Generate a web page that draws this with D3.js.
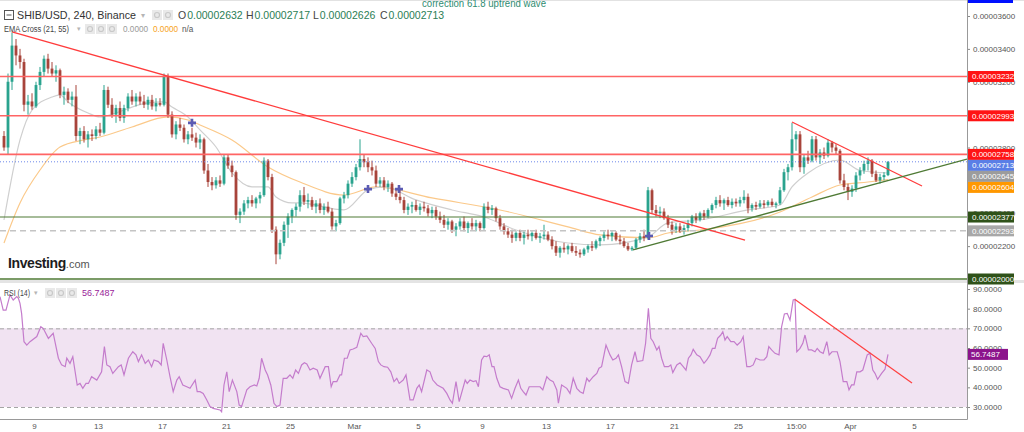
<!DOCTYPE html>
<html><head><meta charset="utf-8">
<script src="https://cdn.jsdelivr.net/npm/d3@7"></script>
<style>
body{margin:0;background:#fff;}
svg{display:block;font-family:Arial,"Liberation Sans",sans-serif;}
</style>
</head><body>
<svg id="c" width="1024" height="432"></svg>
<script>
// ---------- DATA (prices in units of 1e-8 USD) ----------
// 6-hour candles [open, high, low, close]
const candles = [
[2870,2900,2780,2800],[2800,3250,2760,3200],[3200,3500,3150,3420],[3420,3460,3300,3360],[3360,3400,3280,3320],
[3320,3340,3020,3060],[3060,3120,3000,3080],[3080,3130,3030,3050],[3050,3200,3040,3180],[3180,3290,3150,3260],
[3260,3360,3230,3340],[3340,3370,3250,3280],[3280,3320,3230,3250],[3250,3300,3200,3270],[3270,3280,3100,3120],
[3120,3170,3060,3140],[3140,3160,3070,3090],[3090,3140,3050,3110],[3110,3180,2840,2870],[2870,2920,2820,2900],
[2900,2930,2830,2850],[2850,2900,2800,2880],[2880,2910,2840,2870],[2870,2930,2850,2910],[2910,2950,2870,2890],
[2890,3180,2880,3150],[3150,3170,3040,3060],[3060,3100,2980,3000],[3000,3060,2950,3040],[3040,3080,2960,2980],
[2980,3060,2950,3040],[3040,3130,3020,3110],[3110,3150,3060,3080],[3080,3130,3050,3110],[3110,3140,3060,3080],
[3080,3120,3040,3060],[3060,3110,3030,3090],[3090,3120,3030,3050],[3050,3100,3020,3070],[3070,3100,3050,3060],
[3060,3250,3050,3230],[3230,3250,2980,3000],[3000,3020,2860,2880],[2880,2960,2850,2940],[2940,2980,2900,2920],
[2920,2940,2830,2850],[2850,2900,2820,2880],[2880,2920,2840,2860],[2860,2890,2800,2830],[2830,2880,2790,2850],
[2850,2860,2640,2660],[2660,2700,2560,2590],[2590,2620,2540,2570],[2570,2620,2550,2600],[2600,2630,2560,2580],
[2580,2760,2570,2740],[2740,2760,2670,2690],[2690,2720,2620,2650],[2650,2660,2360,2390],[2390,2430,2340,2410],
[2410,2480,2390,2460],[2460,2500,2430,2480],[2480,2510,2440,2460],[2460,2500,2430,2490],[2490,2530,2460,2510],
[2510,2740,2500,2720],[2720,2730,2600,2620],[2620,2640,2280,2300],[2300,2320,2090,2150],[2150,2240,2120,2220],
[2220,2350,2200,2330],[2330,2400,2250,2380],[2380,2430,2340,2420],[2420,2460,2380,2440],[2440,2540,2410,2510],
[2510,2560,2450,2470],[2470,2520,2430,2480],[2480,2500,2420,2440],[2440,2480,2400,2460],[2460,2490,2400,2420],
[2420,2460,2390,2440],[2440,2470,2400,2410],[2410,2430,2300,2320],[2320,2360,2290,2340],[2340,2500,2330,2490],
[2490,2530,2460,2510],[2510,2600,2490,2580],[2580,2650,2560,2620],[2620,2700,2600,2680],[2680,2850,2660,2730],
[2730,2760,2680,2710],[2710,2740,2650,2680],[2680,2720,2630,2660],[2660,2690,2560,2580],[2580,2620,2560,2600],
[2600,2620,2540,2560],[2560,2600,2530,2580],[2580,2590,2500,2520],[2520,2550,2480,2500],[2500,2540,2460,2480],
[2480,2500,2400,2420],[2420,2460,2390,2440],[2440,2470,2400,2450],[2450,2480,2410,2420],[2420,2460,2390,2440],
[2440,2470,2410,2430],[2430,2450,2380,2400],[2400,2440,2370,2420],[2420,2440,2360,2380],[2380,2410,2340,2360],
[2360,2390,2310,2330],[2330,2370,2300,2350],[2350,2360,2280,2300],[2300,2340,2260,2320],[2320,2370,2300,2350],
[2350,2380,2290,2310],[2310,2350,2280,2340],[2340,2370,2300,2320],[2320,2360,2290,2340],[2340,2350,2290,2310],
[2310,2460,2300,2440],[2440,2470,2400,2420],[2420,2450,2390,2430],[2430,2440,2350,2370],[2370,2390,2300,2320],
[2320,2340,2270,2290],[2290,2310,2250,2270],[2270,2300,2220,2250],[2250,2290,2230,2280],[2280,2300,2230,2250],
[2250,2290,2210,2270],[2270,2300,2240,2260],[2260,2290,2230,2280],[2280,2300,2240,2250],[2250,2280,2220,2260],
[2260,2330,2240,2270],[2270,2290,2230,2240],[2240,2260,2180,2200],[2200,2230,2140,2160],[2160,2200,2130,2190],
[2190,2220,2160,2180],[2180,2210,2150,2200],[2200,2220,2160,2170],[2170,2200,2140,2160],[2160,2180,2130,2150],
[2150,2190,2140,2180],[2180,2210,2160,2200],[2200,2230,2170,2190],[2190,2240,2180,2230],[2230,2260,2200,2250],
[2250,2290,2230,2270],[2270,2300,2240,2260],[2260,2290,2230,2280],[2280,2290,2230,2240],[2240,2270,2210,2230],
[2230,2250,2190,2200],[2200,2220,2170,2180],[2180,2200,2170,2190],[2190,2250,2180,2240],[2240,2280,2220,2260],
[2260,2300,2230,2250],[2250,2560,2240,2540],[2540,2550,2400,2420],[2420,2450,2380,2400],[2400,2440,2370,2410],
[2410,2430,2360,2370],[2370,2390,2310,2330],[2330,2350,2270,2300],[2300,2340,2280,2320],[2320,2340,2280,2290],
[2290,2330,2270,2310],[2310,2360,2290,2340],[2340,2390,2320,2380],[2380,2400,2340,2360],[2360,2410,2350,2400],
[2400,2420,2360,2380],[2380,2430,2370,2420],[2420,2460,2400,2450],[2450,2500,2430,2480],[2480,2510,2440,2460],
[2460,2490,2420,2480],[2480,2500,2440,2450],[2450,2490,2430,2470],[2470,2490,2440,2460],[2460,2500,2440,2480],
[2480,2540,2460,2500],[2500,2520,2400,2430],[2430,2460,2410,2450],[2450,2470,2420,2440],[2440,2480,2430,2460],
[2460,2480,2430,2450],[2450,2480,2440,2470],[2470,2490,2440,2450],[2450,2470,2430,2460],[2460,2560,2450,2540],
[2540,2670,2530,2650],[2650,2700,2600,2680],[2680,2950,2660,2850],[2850,2900,2780,2880],[2880,2900,2650,2680],
[2680,2760,2640,2740],[2740,2780,2700,2720],[2720,2870,2710,2850],[2850,2870,2720,2740],[2740,2790,2700,2770],
[2770,2800,2730,2750],[2750,2850,2740,2830],[2830,2840,2770,2800],[2800,2820,2760,2780],[2780,2790,2580,2600],
[2600,2640,2540,2560],[2560,2580,2480,2530],[2530,2570,2500,2550],[2550,2650,2530,2630],[2630,2680,2600,2660],
[2660,2720,2640,2700],[2700,2740,2660,2720],[2720,2730,2620,2640],[2640,2660,2590,2600],[2600,2640,2580,2620],
[2620,2650,2600,2632],[2632,2717,2626,2713]
];
// EMA 21 / EMA 55: [candle index, value]
const ema21 = [[0,2359],[4,2846],[7,3028],[12,3107],[14,3120],[16,3077],[21,3010],[24,2986],[28,3010],[32,3046],
[36,3071],[40,3077],[42,3046],[46,2986],[49,2907],[53,2803],[57,2645],[62,2560],[66,2560],[68,2499],[72,2463],
[74,2463],[85,2420],[91,2542],[95,2560],[103,2481],[112,2420],[120,2377],[128,2298],[141,2219],[149,2207],
[161,2256],[166,2341],[174,2359],[186,2420],[194,2450],[197,2560],[201,2645],[209,2724],[214,2660],[221,2645]];
const ema55 = [[0,2219],[4,2463],[9,2663],[14,2803],[20,2846],[24,2864],[32,2925],[41,2986],[46,2967],[49,2937],
[57,2846],[66,2682],[74,2590],[85,2511],[93,2560],[107,2493],[124,2420],[141,2317],[149,2268],[161,2250],
[166,2280],[174,2298],[194,2408],[202,2499],[209,2572],[216,2590],[221,2604]];
// RSI(14): [candle index, value]
const rsi = [[-1,86.1],[-0.2,79.3],[0.5,79.3],[1.5,87.0],[2.3,84.4],[3.2,86.1],[3.6,85.3],[4,82.7],[4.4,77.6],[5,63.2],
[5.7,61.5],[6.5,63.2],[8.2,65.8],[9.2,70.8],[9.8,70.0],[11.1,64.9],[12.3,67.5],[13.6,54.8],[14.4,51.4],[15.3,50.5],
[15.7,54.8],[16.5,52.2],[17.2,55.6],[18.3,41.2],[19,42.0],[19.7,39.5],[20.5,42.0],[21.1,42.0],[21.9,45.4],[23.2,43.7],
[24.4,47.9],[25.1,60.7],[25.7,51.4],[26.5,50.5],[27.2,47.1],[28.6,50.5],[29.3,51.4],[30,46.3],[31.1,54.8],[32.2,58.1],
[33,56.5],[33.6,53.1],[34.4,56.5],[35.3,52.2],[36.1,53.9],[36.9,50.5],[37.5,53.9],[38.6,53.1],[39.3,51.4],[39.8,62.4],
[40.7,53.9],[41.5,45.4],[42.3,37.8],[43.2,43.7],[43.8,45.4],[44.7,41.2],[45.7,40.3],[46.5,39.5],[47.8,43.7],[48.3,37.8],
[49,37.8],[49.8,36.9],[50.7,33.6],[51.5,30.2],[52.3,29.3],[54,28.5],[54.4,27.6],[55,41.2],[55.7,47.9],[56.3,37.8],
[57.1,43.7],[58.2,37.8],[58.8,31.0],[59.4,30.2],[60.7,38.7],[61.5,40.3],[62.6,41.2],[63.2,40.7],[63.8,44.6],[64.4,54.8],
[65.3,48.8],[65.9,46.3],[66.7,41.2],[67.5,31.9],[68.2,30.2],[69,31.0],[69.8,44.6],[70.7,44.6],[71.5,46.3],[72.2,44.6],
[72.9,48.8],[73.6,47.1],[74.4,51.4],[75.1,52.5],[75.7,51.9],[76.5,48.8],[77.3,49.7],[78.3,48.8],[79,44.6],[80.3,50.5],
[81.1,50.5],[81.8,40.3],[82.3,42.9],[83.2,42.9],[84,46.3],[84.4,46.3],[85.1,54.8],[85.8,54.8],[86.5,59.0],[87.3,59.5],
[88.2,60.3],[89.2,67.5],[89.8,65.8],[90.7,66.1],[91.9,62.4],[92.8,59.8],[93.6,53.1],[94.2,51.4],[95,50.5],[95.9,50.2],
[96.7,47.9],[97.5,42.9],[98.2,44.6],[98.8,42.0],[99.8,43.7],[100.5,46.3],[101.5,33.6],[102.3,33.6],[103.2,39.5],[103.8,41.2],
[104.4,37.8],[105.7,48.8],[106.5,47.9],[107.2,43.7],[108.3,41.2],[109.8,39.5],[110.7,36.9],[111.5,33.6],[112.1,31.9],[113,42.9],
[113.8,32.7],[115.3,43.7],[115.8,42.0],[116.5,43.7],[117.3,42.9],[118,43.4],[118.6,40.3],[119.4,53.9],[120,55.9],[120.7,55.6],
[121.3,56.5],[122,50.5],[122.5,50.5],[123.2,44.6],[124,40.3],[124.8,39.5],[126.1,38.7],[126.9,34.4],[127.75,39.5],[128.6,43.7],
[129.2,39.5],[129.8,37.8],[130.5,36.1],[131.3,40.3],[132.3,40.3],[133.2,40.3],[134,40.3],[134.7,38.7],[135.7,45.4],[136.5,43.7],
[137.3,42.9],[138.2,38.7],[138.6,31.9],[139.4,41.2],[140.7,39.5],[141.5,36.9],[142.3,44.6],[143.2,39.5],[144,37.8],[144.8,36.9],
[145.7,44.6],[146.3,42.9],[147.3,45.4],[148.2,47.1],[148.75,49.7],[149.4,50.5],[150.5,61.5],[151.5,56.5],[152.2,53.9],[153,54.8],
[153.6,56.5],[154.4,50.5],[155.25,42.9],[156.1,42.0],[156.9,51.4],[157.75,58.1],[158.3,53.1],[159.7,53.6],[160.4,62.4],[161.1,80.2],
[161.7,64.9],[162.3,63.2],[163.2,59.0],[163.75,60.7],[164.4,54.8],[165.1,50.5],[166.1,50.5],[166.7,51.4],[167.2,47.5],[168.2,51.4],
[169,52.5],[169.7,50.8],[170.5,48.8],[171.1,54.8],[171.75,56.5],[172.3,59.3],[173.2,56.5],[174,55.6],[175,52.2],[175.7,53.9],
[176.5,56.5],[177.1,59.8],[177.75,59.8],[178.4,64.9],[179.2,66.6],[179.7,68.3],[180.25,64.1],[180.8,65.8],[181.7,63.2],[182.5,63.2],
[183.3,61.5],[184.2,63.2],[184.8,65.8],[185.7,50.5],[186.5,50.5],[187.3,51.4],[188,54.8],[189,53.9],[190,53.9],[190.7,55.6],
[191.2,60.7],[191.9,59.0],[192.75,57.3],[193.75,56.5],[194.4,70.8],[195.1,77.3],[195.8,77.6],[196.5,74.2],[197.3,84.4],[197.75,84.7],
[198.2,58.1],[199,59.8],[199.7,62.4],[200.25,66.6],[201.1,59.0],[201.9,59.0],[202.75,58.1],[203.3,59.8],[204,58.1],[204.8,57.3],
[205.7,63.2],[206.3,56.5],[207,58.1],[208.3,58.1],[209,53.1],[209.8,42.9],[210.7,42.9],[211.25,38.7],[211.9,41.2],[212.5,41.2],
[213.2,47.9],[214,47.9],[214.7,48.8],[215.8,56.5],[216.5,57.3],[217.2,48.8],[217.75,47.1],[218.4,44.1],[219.4,47.1],[220.25,49.2],
[221,56.7487]];
// drawings
const levelValues = [3232, 2993, 2758, 2377, 2293, 2000];
const levelKinds  = ["resist","resist","resist","support","dashed","support"];
const trendDown1 = [[2,3503],[185.25,2237]];
const trendDown2 = [[197,2955],[229.5,2566]];
const trendUp    = [[157.25,2177],[240.75,2730]];
const rsiTrend   = [[197.75,84.7],[227,42.2]];
const crossMarks = [[47,2950],[91,2547],[98.75,2547],[161.25,2262]];
// axes
const priceTicks = [2000,2200,2400,2600,2800,3000,3200,3400,3600];
const rsiTicks = [30,40,50,60,70,80,90];
const dayTicks = [0,4,8,12,16,20,24,28,32,36,40,44,47.625,51,55]; // days after 9 Feb
const dayLabels = ["9","13","17","21","25","Mar","5","9","13","17","21","25","15:00","Apr","5"];
const title = "SHIB/USD, 240, Binance";
const note = "correction 61.8 uptrend wave";

// ---------- CHART ----------
const svg = d3.select("#c");
const R = 967;
const x = d3.scaleLinear().domain([0,221]).range([4,888]);
const dayIdx = d => 7.5 + 4*d;            // 4 candles per day
const y = d3.scaleLinear().domain([2000,3600]).range([279,16]);
const yr = d3.scaleLinear().domain([30,90]).range([407,289]);
const fmtP = v => (v*1e-8).toFixed(8);

const defs = svg.append("defs");
defs.append("clipPath").attr("id","cm").append("rect").attr("x",0).attr("y",0).attr("width",R).attr("height",280);
defs.append("clipPath").attr("id","cr").append("rect").attr("x",0).attr("y",283).attr("width",R).attr("height",136);

svg.append("rect").attr("width",1024).attr("height",432).attr("fill","#fff");
svg.append("line").attr("x1",0).attr("x2",1024).attr("y1",0.5).attr("y2",0.5).attr("stroke","#e2e2e2");

// ---- main panel
const gm = svg.append("g").attr("clip-path","url(#cm)");
const line = d3.line().x(d=>x(d[0])).y(d=>y(d[1]));
const curve = d3.line().x(d=>x(d[0])).y(d=>y(d[1])).curve(d3.curveMonotoneX);

gm.append("path").attr("d",curve(ema55)).attr("fill","none").attr("stroke","#fbc98a").attr("stroke-width",1.2);
gm.append("path").attr("d",curve(ema21)).attr("fill","none").attr("stroke","#cfcfcf").attr("stroke-width",1.2);

const upC="#2aa38e", dnC="#a8443b";
const cg = gm.append("g");
cg.selectAll("line").data(candles).join("line")
  .attr("x1",(d,i)=>x(i)).attr("x2",(d,i)=>x(i))
  .attr("y1",d=>y(d[1])).attr("y2",d=>y(d[2]))
  .attr("stroke",d=>d[3]>=d[0]?upC:dnC).attr("stroke-width",1);
cg.selectAll("rect").data(candles).join("rect")
  .attr("x",(d,i)=>x(i)-1.4).attr("width",2.8)
  .attr("y",d=>y(Math.max(d[0],d[3])))
  .attr("height",d=>Math.max(1,Math.abs(y(d[0])-y(d[3]))))
  .attr("fill",d=>d[3]>=d[0]?upC:dnC);

// horizontal levels
levelValues.forEach((v,i)=>{
  const k=levelKinds[i];
  const l=gm.append("line").attr("x1",0).attr("x2",R).attr("y1",y(v)).attr("y2",y(v));
  if(k==="resist") l.attr("stroke","#ff6464").attr("stroke-width",1.6);
  else if(k==="support") l.attr("stroke","#4f7a35").attr("stroke-width",v===2000?1.6:1.1);
  else l.attr("stroke","#c4c4c4").attr("stroke-width",1.5).attr("stroke-dasharray","6,4");
});
const last = candles[candles.length-1];
gm.append("line").attr("x1",0).attr("x2",R).attr("y1",y(last[3])).attr("y2",y(last[3]))
  .attr("stroke","#6d88ea").attr("stroke-width",1).attr("stroke-dasharray","1,2");

gm.append("path").attr("d",line(trendDown1)).attr("stroke","#ff3c3c").attr("stroke-width",1.3).attr("fill","none");
gm.append("path").attr("d",line(trendDown2)).attr("stroke","#ff3c3c").attr("stroke-width",1.3).attr("fill","none");
gm.append("path").attr("d",line(trendUp)).attr("stroke","#4f7a35").attr("stroke-width",1.3).attr("fill","none");

crossMarks.forEach(d=>{
  const cx=x(d[0]), cy=y(d[1]);
  gm.append("path").attr("d",`M${cx-4},${cy}H${cx+4}M${cx},${cy-4}V${cy+4}`)
    .attr("stroke","#5b5bb3").attr("stroke-width",2.6);
});

// Investing.com logo
const logo = svg.append("text").attr("x",8).attr("y",268);
logo.append("tspan").text("Investing").attr("font-size",14).attr("font-weight","bold").attr("fill","#1d1d1d").attr("letter-spacing",-0.4);
logo.append("tspan").text(".com").attr("font-size",11).attr("fill","#555");

// ---- RSI panel
svg.append("rect").attr("x",0).attr("y",280).attr("width",1024).attr("height",3).attr("fill","#e4e4e4");
const gr = svg.append("g").attr("clip-path","url(#cr)");
gr.append("rect").attr("x",0).attr("width",R).attr("y",yr(70)).attr("height",yr(30)-yr(70)).attr("fill","#f1e3f2");
[70,30].forEach(v=>gr.append("line").attr("x1",0).attr("x2",R).attr("y1",yr(v)+0.5).attr("y2",yr(v)+0.5)
  .attr("stroke","#a5a5a5").attr("stroke-dasharray","4,3"));
const rline = d3.line().x(d=>x(d[0])).y(d=>yr(d[1]));
gr.append("path").attr("d",rline(rsi)).attr("fill","none").attr("stroke","#c47ccc").attr("stroke-width",1.2);
gr.append("path").attr("d",rline(rsiTrend)).attr("fill","none").attr("stroke","#ff4040").attr("stroke-width",1.2);

// ---- right price labels (pushed apart when overlapping)
const colors = {resist:"#ff1414",support:"#2f5219",dashed:"#a8a8a8"};
const labels = levelValues.map((v,i)=>({v, c:colors[levelKinds[i]]}));
labels.push({v:last[3], c:"#5a7ee6"});
labels.push({v:ema21[ema21.length-1][1], c:"#9c9c9c"});
labels.push({v:ema55[ema55.length-1][1], c:"#ff9800"});
labels.forEach(d=>d.y=y(d.v));
labels.sort((a,b)=>a.y-b.y);
for(let i=1;i<labels.length;i++) if(labels[i].y<labels[i-1].y+11) labels[i].y=labels[i-1].y+11;

// ---- axes (tick texts wholly hidden under the price labels are not drawn)
const covered = v => { const ty=y(v);
  for(let t=ty-3.5;t<=ty+3.5;t+=0.5) if(!labels.some(l=>t>=l.y-5.6&&t<=l.y+5.6)) return false;
  return true; };
const axStyle = g => { g.select(".domain").remove();
  g.selectAll("text").attr("fill","#555").attr("font-size",8).attr("font-family","Arial, Liberation Sans");
  g.selectAll("line").attr("stroke","#888"); };
svg.append("g").attr("transform",`translate(${R},0)`)
  .call(d3.axisRight(y).tickValues(priceTicks).tickSize(3).tickPadding(3).tickFormat(d=>covered(d)?"":fmtP(d))).call(axStyle);
svg.append("g").attr("transform",`translate(${R},0)`)
  .call(d3.axisRight(yr).tickValues(rsiTicks).tickSize(3).tickPadding(3).tickFormat(d3.format(".4f"))).call(axStyle);
svg.append("g").attr("transform","translate(0,419)")
  .call(d3.axisBottom(x).tickValues(dayTicks.map(dayIdx)).tickSize(0).tickPadding(4).tickFormat((d,i)=>dayLabels[i])).call(axStyle);
svg.append("line").attr("x1",R+0.5).attr("x2",R+0.5).attr("y1",0).attr("y2",419.5).attr("stroke","#999");
svg.append("line").attr("x1",0).attr("x2",R+0.5).attr("y1",419.5).attr("y2",419.5).attr("stroke","#999");

const lg = svg.append("g");
labels.forEach(d=>{
  lg.append("rect").attr("x",R+1).attr("y",d.y-5.5).attr("width",46).attr("height",11).attr("fill",d.c);
  lg.append("text").attr("x",R+5).attr("y",d.y+3).attr("font-size",8).attr("fill","#fff").text(fmtP(d.v));
});
const rsiLast = rsi[rsi.length-1][1];
lg.append("rect").attr("x",R+1).attr("y",yr(rsiLast)-5.5).attr("width",40).attr("height",11).attr("fill","#8c148c");
lg.append("text").attr("x",R+4).attr("y",yr(rsiLast)+3).attr("font-size",8).attr("fill","#fff").text(rsiLast.toFixed(4));
svg.append("rect").attr("x",R+1).attr("y",0).attr("width",45).attr("height",3).attr("fill","#0010ff");

// ---- header / legends
const icon = (g,x0,y0)=>{ g.append("rect").attr("x",x0).attr("y",y0).attr("width",10).attr("height",10).attr("fill","#e9e9e9");
  g.append("circle").attr("cx",x0+5).attr("cy",y0+5).attr("r",2.5).attr("fill","none").attr("stroke","#c9c9c9").attr("stroke-width",1.2); };
const hd = svg.append("g");
hd.append("rect").attr("x",4.5).attr("y",10.5).attr("width",9).attr("height",9).attr("fill","none").attr("stroke","#555");
hd.append("line").attr("x1",6.5).attr("x2",11.5).attr("y1",15).attr("y2",15).attr("stroke","#555");
hd.append("text").attr("x",17).attr("y",19).attr("font-size",11).attr("fill","#333")
  .attr("textLength",119).attr("lengthAdjust","spacingAndGlyphs").text(title);
hd.append("text").attr("x",141).attr("y",18).attr("font-size",8).attr("fill","#b5b5b5").text("▾");
icon(hd,152,10); icon(hd,163,10);
const ohlcNames=["O","H","L","C"], ohlcX=[178,246,313,380], ohlcVals=[last[0],last[1],last[2],last[3]];
ohlcNames.forEach((n,i)=>{
  const t=hd.append("text").attr("x",ohlcX[i]).attr("y",19).attr("font-size",10.5);
  t.append("tspan").attr("fill","#444").text(n);
  t.append("tspan").attr("fill","#2a7e55").attr("dx",1).text(fmtP(ohlcVals[i]));
});
hd.append("text").attr("x",422).attr("y",6.5).attr("font-size",11).attr("fill","#2e8b70")
  .attr("textLength",124).attr("lengthAdjust","spacingAndGlyphs").text(note);

hd.append("text").attr("x",4).attr("y",32).attr("font-size",8.5).attr("fill","#444")
  .attr("textLength",65).attr("lengthAdjust","spacingAndGlyphs").text("EMA Cross (21, 55)");
hd.append("text").attr("x",76.5).attr("y",31).attr("font-size",7).attr("fill","#b5b5b5").text("▾");
icon(hd,85,24); icon(hd,96,24); icon(hd,107,24);
hd.append("text").attr("x",123).attr("y",32).attr("font-size",8.2).attr("fill","#999").text("0.0000");
hd.append("text").attr("x",153).attr("y",32).attr("font-size",8.2).attr("fill","#f7a21b").text("0.0000");
hd.append("text").attr("x",182).attr("y",32).attr("font-size",8.2).attr("fill","#555").text("n/a");

hd.append("text").attr("x",4).attr("y",296).attr("font-size",8.3).attr("fill","#444")
  .attr("textLength",26).attr("lengthAdjust","spacingAndGlyphs").text("RSI (14)");
hd.append("text").attr("x",34).attr("y",295).attr("font-size",7).attr("fill","#b5b5b5").text("▾");
icon(hd,45,288); icon(hd,56,288); icon(hd,67,288);
hd.append("text").attr("x",82).attr("y",296).attr("font-size",9).attr("fill","#9a1d9a").text(rsiLast.toFixed(4));
</script>
</body></html>
